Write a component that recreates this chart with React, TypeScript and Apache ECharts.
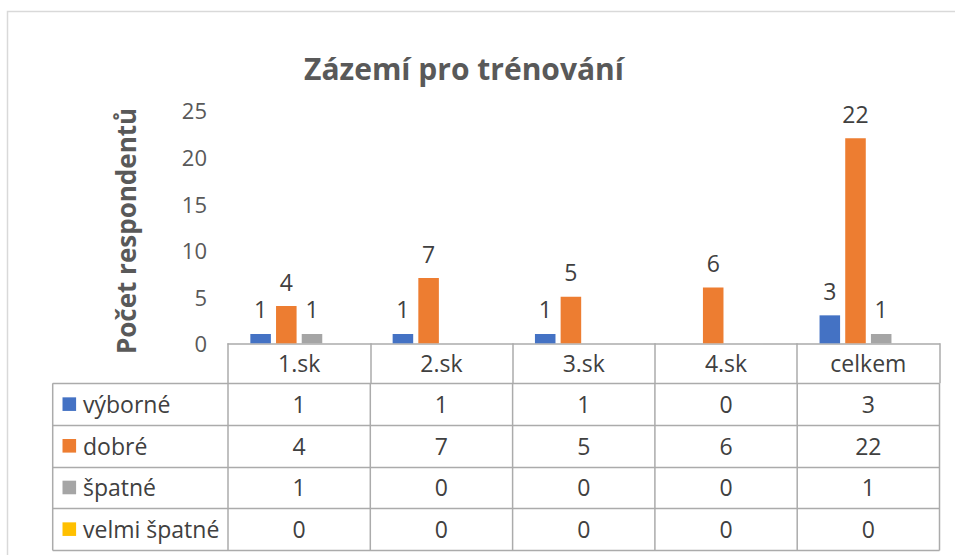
import React, { useEffect, useRef } from "react";
import * as echarts from "echarts";

const title = "Zázemí pro trénování";
const yAxisTitle = "Počet respondentů";
const categories = ["1.sk", "2.sk", "3.sk", "4.sk", "celkem"];
const seriesNames = ["výborné", "dobré", "špatné", "velmi špatné"];
const vyborne = [1, 1, 1, 0, 3];
const dobre = [4, 7, 5, 6, 22];
const spatne = [1, 0, 0, 0, 1];
const velmiSpatne = [0, 0, 0, 0, 0];
const colors = ["#4472C4", "#ED7D31", "#A5A5A5", "#FFC000"];
const yTicks = { min: 0, max: 25, interval: 5 };

const FONT = "'Open Sans', 'Noto Sans', sans-serif";
const W = 955;
const H = 555;
const GRID_LEFT = 228;
const GRID_RIGHT_X = 939.5;
const GRID_TOP = 110.3;
const AXIS_Y = 343.3;
const HEADER_H = 40;
const ROW_H = 41.67;
const LEGEND_LEFT = 52.7;
const LINE_COLOR = "#ABABAB";
const TEXT_COLOR = "#404040";
const AXIS_TEXT = "#595959";

export default function App() {
  const ref = useRef<HTMLDivElement>(null);
  useEffect(() => {
    if (!ref.current) return;
    const chart = echarts.init(ref.current, undefined, { renderer: "svg", width: W, height: H });
    const allSeries = [vyborne, dobre, spatne, velmiSpatne];
    const colW = (GRID_RIGHT_X - GRID_LEFT) / categories.length;
    const rowTop = AXIS_Y + HEADER_H;
    const nRows = allSeries.length;
    const graphics: any[] = [];

    // outer frame
    graphics.push({
      type: "rect",
      shape: { x: 7.5, y: 11.5, width: 1000, height: 600 },
      style: { fill: "none", stroke: "#D9D9D9", lineWidth: 1.5 },
      silent: true,
    });
    // title
    graphics.push({
      type: "text",
      x: 464,
      y: 68,
      style: {
        text: title,
        font: `bold 30px ${FONT}`,
        fill: AXIS_TEXT,
        textAlign: "center",
        textVerticalAlign: "middle",
      },
    });
    // y axis title
    graphics.push({
      type: "text",
      x: 126,
      y: 231,
      rotation: Math.PI / 2,
      style: {
        text: yAxisTitle,
        font: `bold 26px ${FONT}`,
        fill: AXIS_TEXT,
        textAlign: "center",
        textVerticalAlign: "middle",
      },
    });
    // horizontal table lines
    for (let i = 0; i <= nRows; i++) {
      const y = Math.round(rowTop + i * ROW_H) + 0.5;
      graphics.push({
        type: "line",
        shape: { x1: LEGEND_LEFT, y1: y, x2: GRID_RIGHT_X, y2: y },
        style: { stroke: LINE_COLOR, lineWidth: 1.5 },
      });
    }
    // vertical table lines
    const yBottom = Math.round(rowTop + nRows * ROW_H) + 0.5;
    graphics.push({
      type: "line",
      shape: { x1: LEGEND_LEFT, y1: rowTop, x2: LEGEND_LEFT, y2: yBottom },
      style: { stroke: LINE_COLOR, lineWidth: 1.5 },
    });
    for (let c = 0; c <= categories.length; c++) {
      const x = GRID_LEFT + c * colW;
      graphics.push({
        type: "line",
        shape: { x1: x, y1: rowTop, x2: x, y2: yBottom },
        style: { stroke: LINE_COLOR, lineWidth: 1.5 },
      });
    }
    // legend + values
    allSeries.forEach((vals, r) => {
      const cy = rowTop + r * ROW_H + ROW_H / 2;
      graphics.push({
        type: "rect",
        shape: { x: 62.5, y: cy - 6.8, width: 13.6, height: 13.6 },
        style: { fill: colors[r] },
      });
      graphics.push({
        type: "text",
        x: 83,
        y: cy,
        style: {
          text: seriesNames[r],
          font: `23px ${FONT}`,
          fill: TEXT_COLOR,
          textAlign: "left",
          textVerticalAlign: "middle",
        },
      });
      vals.forEach((v, c) => {
        graphics.push({
          type: "text",
          x: GRID_LEFT + c * colW + colW / 2,
          y: cy,
          style: {
            text: String(v),
            font: `23px ${FONT}`,
            fill: TEXT_COLOR,
            textAlign: "center",
            textVerticalAlign: "middle",
          },
        });
      });
    });

    chart.setOption({
      animation: false,
      textStyle: { fontFamily: FONT },
      grid: {
        left: GRID_LEFT,
        right: W - GRID_RIGHT_X,
        top: GRID_TOP,
        bottom: H - AXIS_Y,
        containLabel: false,
      },
      xAxis: {
        type: "category",
        data: categories,
        boundaryGap: true,
        axisLine: { show: true, lineStyle: { color: LINE_COLOR, width: 1.5 } },
        axisTick: { show: true, length: HEADER_H, interval: 0, lineStyle: { color: LINE_COLOR, width: 1.5 } },
        axisLabel: {
          interval: 0,
          margin: HEADER_H / 2,
          verticalAlign: "middle",
          color: TEXT_COLOR,
          fontSize: 23,
          fontFamily: FONT,
        },
        splitLine: { show: false },
      },
      yAxis: {
        type: "value",
        min: yTicks.min,
        max: yTicks.max,
        interval: yTicks.interval,
        axisLine: { show: false },
        axisTick: { show: false },
        splitLine: { show: false },
        axisLabel: { color: AXIS_TEXT, fontSize: 22, margin: 21, fontFamily: FONT },
      },
      series: allSeries.map((vals, i) => ({
        type: "bar",
        name: seriesNames[i],
        data: vals,
        barGap: "25%",
        barCategoryGap: "31.4%",
        itemStyle: { color: colors[i] },
        label: {
          show: true,
          position: "top",
          distance: 13,
          color: TEXT_COLOR,
          fontSize: 23,
          fontFamily: FONT,
          formatter: (p: any) => (p.value === 0 ? "" : String(p.value)),
        },
      })),
      graphic: graphics,
    });
    return () => chart.dispose();
  }, []);
  return (
    <div
      ref={ref}
      style={{ position: "absolute", left: 0, top: 0, width: W, height: H, background: "#fff" }}
    />
  );
}
